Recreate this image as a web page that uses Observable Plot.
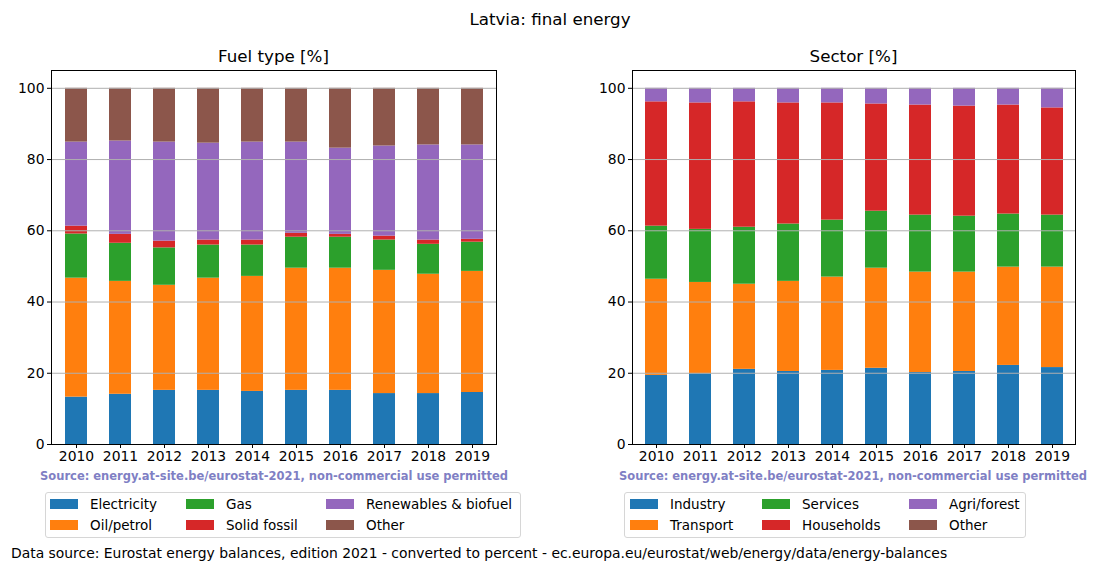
<!DOCTYPE html>
<html>
<head>
<meta charset="utf-8">
<script src="https://cdn.jsdelivr.net/npm/d3@7"></script>
<script src="https://cdn.jsdelivr.net/npm/@observablehq/plot@0.6"></script>
<style>
  body { margin:0; background:#fff; font-family:"DejaVu Sans", sans-serif; }
  #root { position:relative; width:1100px; height:572px; overflow:hidden; }
  .abs { position:absolute; white-space:nowrap; }
  .title { font-size:16.7px; transform:translateX(-50%); }
  .src { font-size:11.5px; font-weight:bold; color:#7f7fc4; transform:translateX(-50%); }
  .legend { position:absolute; border:1px solid #d6d6d6; border-radius:3px; background:#fff; box-sizing:border-box; }
  .sw { position:absolute; width:28px; height:10px; }
  .lt { position:absolute; font-size:13.5px; line-height:16px; white-space:nowrap; }
</style>
</head>
<body>
<div id="root"></div>
<script>
const years = ["2010","2011","2012","2013","2014","2015","2016","2017","2018","2019"];

// Fuel type shares [%]
const fuelNames = ["Electricity","Oil/petrol","Gas","Solid fossil","Renewables & biofuel","Other"];
const electricity = [13.3,14.1,15.2,15.2,14.9,15.2,15.2,14.3,14.3,14.6];
const oilPetrol   = [33.4,31.7,29.5,31.5,32.3,34.3,34.3,34.6,33.5,34.0];
const gas         = [12.4,10.7,10.5,9.3,8.8,8.7,8.7,8.5,8.4,8.2];
const solidFossil = [2.2,2.5,1.9,1.4,1.4,1.1,0.8,1.1,1.2,0.8];
const renewables  = [23.6,26.2,27.8,27.2,27.5,25.6,24.2,25.3,26.7,26.5];
const fuelOther   = [15.1,14.8,15.1,15.4,15.1,15.1,16.8,16.2,15.9,15.9];

// Sector shares [%]
const sectorNames = ["Industry","Transport","Services","Households","Agri/forest","Other"];
const industry    = [19.4,19.9,21.1,20.5,20.8,21.4,20.2,20.5,22.2,21.6];
const transport   = [27.0,25.6,23.9,25.3,26.2,28.1,28.2,27.9,27.6,28.2];
const services    = [14.9,14.9,16.0,16.1,16.0,16.0,16.0,15.7,14.9,14.6];
const households  = [34.9,35.5,35.2,34.0,32.9,30.1,30.9,30.9,30.6,30.1];
const agriForest  = [3.8,4.1,3.8,4.1,4.1,4.4,4.7,5.0,4.7,5.5];
const sectorOther = [0,0,0,0,0,0,0,0,0,0];

const yTicks = [0,20,40,60,80,100];
const palette = ["#1f77b4","#ff7f0e","#2ca02c","#d62728","#9467bd","#8c564b"];

function toRows(names, series) {
  const rows = [];
  names.forEach((n, i) => series[i].forEach((v, j) => rows.push({year: years[j], series: n, value: v})));
  return rows;
}
const fuelRows = toRows(fuelNames, [electricity, oilPetrol, gas, solidFossil, renewables, fuelOther]);
const sectorRows = toRows(sectorNames, [industry, transport, services, households, agriForest, sectorOther]);

const root = document.getElementById("root");
function addText(cls, text, x, y) {
  const d = document.createElement("div");
  d.className = "abs " + cls;
  d.textContent = text;
  d.style.left = x + "px";
  d.style.top = y + "px";
  root.appendChild(d);
  return d;
}

function makePanel(rows, names, opts) {
  const chart = Plot.plot({
    width: 550,
    height: 409,
    marginLeft: opts.ml,
    marginRight: opts.mr,
    marginTop: 5,
    marginBottom: 30,
    style: {fontFamily: "DejaVu Sans", fontSize: "13.9px", color: "black", background: "transparent", overflow: "visible"},
    x: {domain: years, paddingInner: 0.5, paddingOuter: 0.25, label: null},
    y: {domain: [0, 105], label: null},
    color: {domain: names, range: palette},
    marks: [
      Plot.barY(rows, {x: "year", y: "value", fill: "series", order: names, insetLeft: 0, insetRight: 0}),
      Plot.gridY(yTicks, {stroke: "#b0b0b0", strokeOpacity: 1, strokeWidth: 1}),
      Plot.axisY({ticks: yTicks, tickSize: 4, tickPadding: 3, tickFormat: d => d, label: null}),
      Plot.axisX({tickSize: 4, tickPadding: 3, label: null}),
      Plot.frame({stroke: "black", strokeWidth: 1})
    ]
  });
  chart.style.position = "absolute";
  chart.style.left = opts.left + "px";
  chart.style.top = "65px";
  root.appendChild(chart);

  const cx = opts.left + opts.ml + (550 - opts.ml - opts.mr) / 2;
  addText("title", opts.title, cx, 46);
  addText("src", "Source: energy.at-site.be/eurostat-2021, non-commercial use permitted", opts.srcX, 469);

  const lg = document.createElement("div");
  lg.className = "legend";
  lg.style.left = opts.lg.left + "px";
  lg.style.top = "492px";
  lg.style.width = opts.lg.width + "px";
  lg.style.height = "46px";
  root.appendChild(lg);
  names.forEach((n, i) => {
    const col = Math.floor(i / 2), row = i % 2;
    const sx = opts.lg.cols[col];
    const sy = row === 0 ? 499 : 520;
    const sw = document.createElement("div");
    sw.className = "sw";
    sw.style.background = palette[i];
    sw.style.left = sx + "px";
    sw.style.top = sy + "px";
    root.appendChild(sw);
    const t = document.createElement("div");
    t.className = "lt";
    t.textContent = n;
    t.style.left = (sx + 40) + "px";
    t.style.top = (sy - 3) + "px";
    root.appendChild(t);
  });
}

addText("title", "Latvia: final energy", 550, 9);

makePanel(fuelRows, fuelNames, {
  left: 0, ml: 51, mr: 54, title: "Fuel type [%]", srcX: 274,
  lg: {left: 45, width: 476, cols: [50, 186, 326]}
});
makePanel(sectorRows, sectorNames, {
  left: 550, ml: 82, mr: 25, title: "Sector [%]", srcX: 853,
  lg: {left: 624, width: 402, cols: [630, 762, 909]}
});

const cap = addText("", "Data source: Eurostat energy balances, edition 2021 - converted to percent - ec.europa.eu/eurostat/web/energy/data/energy-balances", 11, 545);
cap.style.fontSize = "13.9px";
</script>
</body>
</html>
